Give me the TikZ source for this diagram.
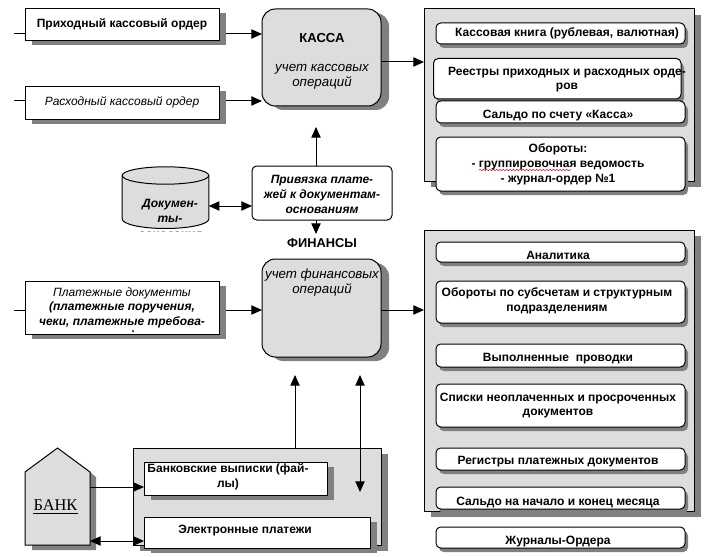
\documentclass[tikz,border=0pt]{standalone}
\usepackage{fontspec}
\setmainfont{Liberation Sans}
\newfontfamily\bankfont{Liberation Serif}
\usetikzlibrary{arrows.meta,shapes.geometric,shadows,decorations.pathmorphing}
\tikzset{
  x=0.75pt,y=-0.75pt,
  bline/.style={draw=black,line width=0.75pt,inner sep=0pt,outer sep=0pt},
  shad/.style 2 args={drop shadow={shadow xshift=#1*0.75pt,shadow yshift=-#2*0.75pt,opacity=1,fill=shadowgray}},
  doc/.style={bline,fill=white,shad={6.5}{4.5}},
  inner/.style={bline,fill=white,rounded corners=3.5pt,shad={3}{4}},
  proc/.style={bline,fill=panelgray,rounded corners=10pt,shad={8}{4}},
  panel/.style={bline,fill=panelgray,shad={7}{6}},
  plain/.style={bline,fill=white,rounded corners=3.5pt},
  tb/.style={inner sep=0pt,outer sep=0pt,align=center,yshift=-0.75pt,font=\fontsize{9}{11}\selectfont\bfseries},
  tbi/.style={inner sep=0pt,outer sep=0pt,align=center,yshift=-0.75pt,font=\fontsize{9}{11}\selectfont\bfseries\itshape},
  ti/.style={inner sep=0pt,outer sep=0pt,align=center,yshift=-0.75pt,font=\fontsize{9}{11}\selectfont\itshape},
  tbig/.style={inner sep=0pt,outer sep=0pt,align=center,font=\fontsize{10}{11.3}\selectfont\itshape},
  conn/.style={draw=black,line width=0.75pt,-{Triangle[length=8pt,width=7pt]}},
  dconn/.style={draw=black,line width=0.75pt,{Triangle[length=8pt,width=7pt]}-{Triangle[length=8pt,width=7pt]}},
  stub/.style={draw=black,line width=0.75pt},
}
\definecolor{panelgray}{HTML}{DDDDDD}
\definecolor{shadowgray}{HTML}{808080}
\newcommand\bx[6]{\node[#1,minimum width={(#5-#3)*0.75pt},minimum height={(#6-#4)*0.75pt}] (#2) at ({(#3+#5)/2},{(#4+#6)/2}) {};}
\begin{document}
\begin{tikzpicture}
\useasboundingbox (0,0) rectangle (723,556);
\fill[white] (0,0) rectangle (723,556);
% left documents
\bx{doc}{prih}{25}{9}{219}{41}
\bx{doc}{rash}{25}{87}{219}{120}
\bx{doc}{plat}{25}{281}{219}{334}
\node[tb] (tprih) at (122,23) {Приходный кассовый ордер};
\node[ti] (trash) at (122,101) {Расходный кассовый ордер};
% process boxes
\bx{proc}{kassa}{262}{9}{381}{106}
\bx{proc}{fin}{262}{259}{381}{357}
\node[tb,font=\fontsize{9.8}{11}\selectfont\bfseries] (tkassa) at (322,37) {КАССА};
\node[tbig] (tkassa2) at (322,76.5) {учет кассовых\\операций};
\node[tb,font=\fontsize{9.6}{11}\selectfont\bfseries] (tfin) at (322,242) {ФИНАНСЫ};
\node[tbig] (tfin2) at (322,282.5) {учет финансовых\\операций};
% clipped payment text
\begin{scope}
\clip (25,281) rectangle (219,331.5);
\node[tbi,anchor=north,font=\fontsize{9}{10.9}\selectfont\bfseries\itshape] (tplat) at (122,286.5) {{\mdseries Платежные документы}\\(платежные поручения,\\чеки, платежные требова-\\ния)};
\end{scope}
% right panels
\bx{panel}{pan1}{424}{9}{694}{181}
\bx{panel}{pan2}{424}{230}{694}{511}
\bx{inner}{r1}{436}{23}{685}{44}
\bx{inner}{r2}{433.5}{58.5}{681}{99}
\bx{inner}{r3}{436}{101}{685}{123}
\bx{inner}{r4}{436}{137}{685}{191}
\node[tb] (tr1) at (567,32) {Кассовая книга (рублевая, валютная)};
\node[tb] (tr2) at (567,78.5) {Реестры приходных и расходных орде-\\ров};
\node[tb] (tr3) at (558,115) {Сальдо по счету «Касса»};
\node[tb] (tr4) at (558,163.5) {Обороты:\\- группировочная ведомость\\- журнал-ордер №1};
\draw[red!80!black,line width=0.4pt,decorate,decoration={snake,amplitude=0.4pt,segment length=2.5pt}] (479,170) -- (571,170);
\bx{inner}{s1}{436}{242}{685}{262}
\bx{inner}{s2}{436}{281}{685}{323}
\bx{inner}{s3}{436}{344}{685}{367}
\bx{inner}{s4}{436}{384}{685}{427}
\bx{inner}{s5}{436}{448}{685}{470}
\bx{inner}{s6}{436}{487}{685}{509}
\bx{inner}{s7}{436}{527}{685}{548}
\node[tb] (ts1) at (558,254) {Аналитика};
\node[tb] (ts2) at (557,300) {Обороты по субсчетам и структурным\\подразделениям};
\node[tb] (ts3) at (558,358) {Выполненные\ \ проводки};
\node[tb] (ts4) at (558,404.5) {Списки неоплаченных и просроченных\\документов};
\node[tb] (ts5) at (558,461) {Регистры платежных документов};
\node[tb] (ts6) at (558,501) {Сальдо на начало и конец месяца};
\node[tb] (ts7) at (558,541) {Журналы-Ордера};
% database
\node[inner sep=0pt,outer sep=0pt,minimum width={86.5*0.75pt},minimum height={62*0.75pt}] (docs) at (165.5,198) {};
\draw[line width=0.75pt,fill=panelgray] (122.2,175.5) -- (122.2,219) arc[start angle=180,end angle=360,x radius=43.3,y radius=-9.5] -- (208.8,175.5) arc[start angle=0,end angle=180,x radius=43.3,y radius=-8.7] -- cycle;
\draw[line width=0.75pt] (122.2,175.5) arc[start angle=180,end angle=360,x radius=43.3,y radius=-8.7];
\begin{scope}
\clip (122,190) rectangle (209,231.5);
\node[tbi,anchor=north,font=\fontsize{9}{11.8}\selectfont\bfseries\itshape] (tdocs) at (170,198) {Докумен-\\ты-\\основания};
\end{scope}
% binding box
\bx{plain}{priv}{252}{166}{392}{220}
\node[tbi] (tpriv) at (322,193.5) {Привязка плате-\\жей к документам-\\основаниям};
% bank group
\bx{panel}{grp}{133}{448}{381}{545}
\bx{doc}{vyp}{144}{462}{327}{495}
\bx{doc}{ele}{144}{517}{370}{548}
\node[tb] (tvyp) at (228,475.5) {Банковские выписки (фай-\\лы)};
\node[tb] (tele) at (245,530) {Электронные платежи};
% bank
\node[inner sep=0pt,outer sep=0pt,minimum width={65*0.75pt},minimum height={97*0.75pt}] (bank) at (57.5,496.5) {};
\fill[shadowgray] (90,472) -- (96,477) -- (96,550) -- (32,550) -- (32,545) -- cycle;
\draw[line width=0.75pt,fill=panelgray] (25,472) -- (57.5,448) -- (90,472) -- (90,545) -- (25,545) -- cycle;
\node[inner sep=0pt,font=\fontsize{12.3}{13}\selectfont\bankfont] (tbank) at (55.5,505) {БАНК};
\draw[line width=1.1pt] ([shift={(0,3)}]tbank.base west) -- ([shift={(0,3)}]tbank.base east);
% free ends
\coordinate (a1) at (14,34); \coordinate (a2) at (14,101); \coordinate (a3) at (14,310);
\coordinate (tipk) at (316,127); \coordinate (tipd) at (316,234);
\coordinate (tipf1) at (295,375); \coordinate (tipf2) at (360,375); \coordinate (tipf3) at (360,492);
% connectors
\draw[stub] (a1) -- (prih.west |- a1);
\draw[stub] (a2) -- (prih.west |- a2);
\draw[stub] (a3) -- (plat.west |- a3);
\draw[conn] (226,34) -- (kassa.west |- a1);
\draw[conn] (226,101) -- (kassa.west |- a2);
\draw[conn] (226,310) -- (fin.west |- a3);
\draw[conn] (389,62) -- (pan1.west |- 0,62);
\draw[stub] (kassa.east |- 0,62) -- (389,62);
\draw[stub] (fin.east |- a3) -- (389,310);
\draw[conn] (389,310) -- (pan2.west |- a3);
\draw[conn] (priv.north -| tipk) -- (tipk);
\draw[conn] (priv.south -| tipd) -- (tipd);
\draw[dconn] ([shift={(0,8)}]docs.east) -- ([shift={(0,13)}]priv.west);
\draw[conn] (grp.north -| tipf1) -- (tipf1);
\draw[dconn] (tipf2) -- (tipf3);
\draw[conn] ([shift={(0,-9.5)}]bank.east) -- (vyp.west |- 0,487);
\draw[dconn] ([shift={(0,44.5)}]bank.east) -- (ele.west |- 0,541);
\end{tikzpicture}
\end{document}
